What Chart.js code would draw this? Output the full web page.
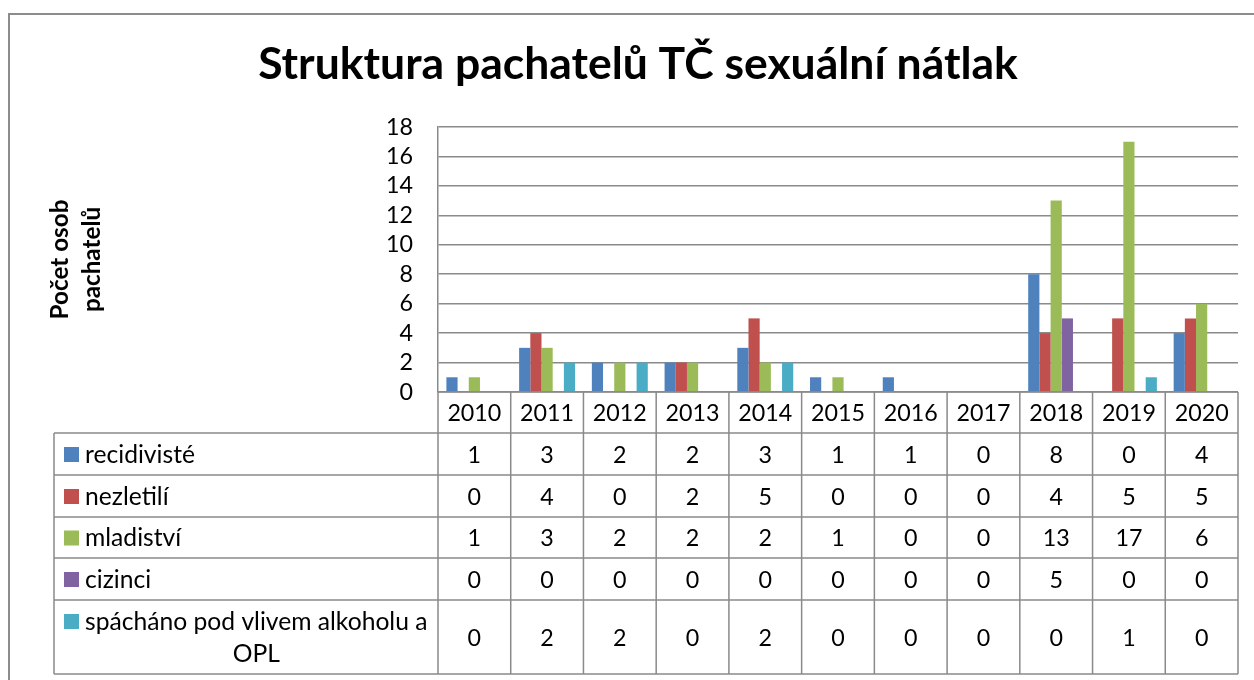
<!DOCTYPE html>
<html><head><meta charset="utf-8">
<script src="https://cdn.jsdelivr.net/npm/chart.js@4.4.1/dist/chart.umd.min.js"></script>
<style>html,body{margin:0;padding:0;background:#fff;overflow:hidden}canvas{display:block}</style>
</head><body>
<canvas id="c" width="1254" height="680"></canvas>
<script>
// ---- data ----
const categories = ['2010','2011','2012','2013','2014','2015','2016','2017','2018','2019','2020'];
const recidiviste = [1,3,2,2,3,1,1,0,8,0,4];
const nezletili   = [0,4,0,2,5,0,0,0,4,5,5];
const mladistvi   = [1,3,2,2,2,1,0,0,13,17,6];
const cizinci     = [0,0,0,0,0,0,0,0,5,0,0];
const alkohol     = [0,2,2,0,2,0,0,0,0,1,0];
const seriesNames = ['recidivisté','nezletilí','mladiství','cizinci','spácháno pod vlivem alkoholu a OPL'];
const seriesValues = [recidiviste, nezletili, mladistvi, cizinci, alkohol];
const seriesColors = ['#4F81BD','#C0504D','#9BBB59','#8064A2','#4BACC6'];
const yMin = 0, yMax = 18, yStep = 2;
const chartTitle = 'Struktura pachatelů TČ sexuální nátlak';
const yTitle = ['Počet osob','pachatelů'];

// ---- styling helpers ----
const FAMILY = 'Lato';
function fitSize(text, target, weight){
  const c = document.createElement('canvas').getContext('2d');
  c.font = weight + ' 100px ' + FAMILY;
  return 100 * target / c.measureText(text).width;
}
const titleSize = fitSize(chartTitle, 760, 'bold');
const yTitleSize = fitSize(yTitle[0], 120, 'bold');
const numSize = fitSize('2010', 54, 'normal');
const lblSize = fitSize('recidivisté', 110, 'normal');
const LINE = '#8a8a8a';

const framePlugin = {
  id: 'frame',
  beforeDraw(chart){
    const ctx = chart.ctx;
    ctx.save();
    ctx.fillStyle = '#fff';
    ctx.fillRect(0,0,chart.width,chart.height);
    ctx.strokeStyle = '#8c8c8c';
    ctx.lineWidth = 2;
    ctx.strokeRect(9, 14, 1266 - 9, 700);
    ctx.restore();
  }
};

const tablePlugin = {
  id: 'dataTable',
  afterDraw(chart){
    const {ctx, chartArea: a, scales: {x}} = chart;
    const n = categories.length;
    const cw = (a.right - a.left) / n;
    const rowH = [41, 42, 42, 41, 42, 74];
    const tableLeft = 54;
    const ys = [a.bottom];
    rowH.forEach(h => ys.push(ys[ys.length-1] + h));
    ctx.save();
    ctx.strokeStyle = LINE;
    ctx.lineWidth = 1.5;
    ctx.beginPath();
    ctx.moveTo(a.left, ys[0]); ctx.lineTo(a.right, ys[0]);
    for (let r = 1; r < ys.length; r++){
      ctx.moveTo(tableLeft, ys[r]); ctx.lineTo(a.right, ys[r]);
    }
    for (let i = 0; i <= n; i++){
      const xp = a.left + i*cw;
      ctx.moveTo(xp, ys[0]); ctx.lineTo(xp, ys[ys.length-1]);
    }
    ctx.moveTo(tableLeft, ys[1]); ctx.lineTo(tableLeft, ys[ys.length-1]);
    ctx.stroke();

    ctx.fillStyle = '#000';
    ctx.textAlign = 'center';
    ctx.textBaseline = 'middle';
    ctx.font = 'normal ' + numSize + 'px ' + FAMILY;
    categories.forEach((c,i) => {
      ctx.fillText(c, x.getPixelForValue(i), (ys[0]+ys[1])/2 + 1);
    });
    seriesValues.forEach((vals, r) => {
      const cy = (ys[r+1]+ys[r+2])/2 + 1;
      vals.forEach((v,i) => ctx.fillText(String(v), x.getPixelForValue(i), cy));
    });
    ctx.font = 'normal ' + lblSize + 'px ' + FAMILY;
    const maxW = a.left - 85 - 2;
    seriesNames.forEach((name, r) => {
      const words = name.split(' ');
      const lines = [];
      let cur = '';
      words.forEach(w => {
        const t = cur ? cur + ' ' + w : w;
        if (ctx.measureText(t).width > maxW && cur){ lines.push(cur); cur = w; }
        else cur = t;
      });
      lines.push(cur);
      const top = ys[r+1], bot = ys[r+2];
      const lh = 32;
      const cy0 = (top+bot)/2 - (lines.length-1)*lh/2;
      ctx.fillStyle = seriesColors[r];
      ctx.fillRect(64, cy0 - 7, 15, 15);
      ctx.fillStyle = '#000';
      const firstW = ctx.measureText(lines[0]).width;
      lines.forEach((ln, k) => {
        if (k === 0){ ctx.textAlign = 'left'; ctx.fillText(ln, 85, cy0 + 1); }
        else { ctx.textAlign = 'center'; ctx.fillText(ln, 85 + firstW/2, cy0 + k*lh + 1); }
      });
    });
    ctx.restore();
  }
};

const datasets = seriesNames.map((name, i) => ({
  label: name,
  data: seriesValues[i],
  backgroundColor: seriesColors[i],
  borderWidth: 0,
  categoryPercentage: 5/6.5,
  barPercentage: 1.0
}));

new Chart(document.getElementById('c'), {
  type: 'bar',
  data: { labels: categories, datasets },
  plugins: [framePlugin, tablePlugin],
  options: {
    responsive: false,
    animation: false,
    devicePixelRatio: 1,
    layout: { padding: { left: 38, right: 16, top: 0, bottom: 288 } },
    plugins: {
      legend: { display: false },
      tooltip: { enabled: false },
      title: {
        display: true,
        text: chartTitle,
        color: '#000',
        font: { family: FAMILY, weight: 'bold', size: titleSize, lineHeight: 1.2 },
        padding: { top: 65 - 0.6*titleSize, bottom: 62 - 0.6*titleSize }
      }
    },
    scales: {
      x: { type: 'category', display: false },
      y: {
        position: 'left',
        min: yMin, max: yMax,
        ticks: { stepSize: yStep, autoSkip: false, color: '#000', padding: 25,
                 font: { family: FAMILY, size: numSize } },
        grid: { color: LINE, lineWidth: 1.5, drawTicks: false },
        border: { display: true, color: LINE, width: 1.5 },
        title: {
          display: true, text: yTitle, color: '#000',
          font: { family: FAMILY, weight: 'bold', size: yTitleSize, lineHeight: '32px' },
          padding: { top: 6, bottom: 0 }
        },
        afterFit(s){ s.width = 400; }
      }
    }
  }
});
</script>
</body></html>
